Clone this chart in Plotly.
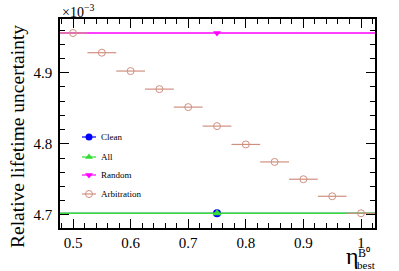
import plotly.graph_objects as go

# ---- data (values in units of 1e-3) ----
arb_eta = [0.50, 0.55, 0.60, 0.65, 0.70, 0.75, 0.80, 0.85, 0.90, 0.95, 1.00]
arb_unc = [4.9559, 4.9282, 4.9024, 4.8770, 4.8517, 4.8250, 4.7992, 4.7746, 4.7503, 4.7263, 4.7024]
arb_half = [0.025] * len(arb_eta)

clean_eta = [0.75]
clean_unc = [4.7024]
all_eta = [0.75]
all_unc = [4.7024]
rand_eta = [0.75]
rand_unc = [4.9559]
full_half = [0.30]

x_ticks = [0.5, 0.6, 0.7, 0.8, 0.9, 1.0]
x_ticklabels = ["0.5", "0.6", "0.7", "0.8", "0.9", "1"]
y_ticks = [4.7, 4.8, 4.9]
y_ticklabels = ["4.7", "4.8", "4.9"]

legend_names = ["Clean", "All", "Random", "Arbitration"]

C_CLEAN = "#0000ff"
C_ALL = "#33dd33"
C_RAND = "#ff00ff"
C_ARB = "#d09080"
SERIF = "Liberation Serif, Times New Roman, serif"

fig = go.Figure()

fig.add_trace(go.Scatter(
    x=clean_eta, y=clean_unc, mode="markers",
    marker=dict(symbol="circle", size=8, color=C_CLEAN),
    error_x=dict(type="data", array=full_half, color=C_CLEAN, thickness=1, width=0),
    showlegend=False))
fig.add_trace(go.Scatter(
    x=all_eta, y=all_unc, mode="markers",
    marker=dict(symbol="triangle-up", size=8, color=C_ALL),
    error_x=dict(type="data", array=full_half, color=C_ALL, thickness=1.6, width=0),
    showlegend=False))
fig.add_trace(go.Scatter(
    x=rand_eta, y=rand_unc, mode="markers",
    marker=dict(symbol="triangle-down", size=7, color=C_RAND),
    error_x=dict(type="data", array=full_half, color=C_RAND, thickness=1.6, width=0),
    showlegend=False))
fig.add_trace(go.Scatter(
    x=arb_eta, y=arb_unc, mode="markers",
    marker=dict(symbol="circle-open", size=7, color=C_ARB, line=dict(width=1)),
    error_x=dict(type="data", array=arb_half, color=C_ARB, thickness=1.2, width=0),
    showlegend=False))

# ---- manual legend on an overlay axis in pixel-like coordinates ----
leg_rows = [137, 157, 175, 194]
leg_styles = [
    dict(symbol="circle", size=7, color=C_CLEAN),
    dict(symbol="triangle-up", size=7, color=C_ALL),
    dict(symbol="triangle-down", size=7, color=C_RAND),
    dict(symbol="circle-open", size=7, color=C_ARB, line=dict(width=1)),
]
leg_colors = [C_CLEAN, C_ALL, C_RAND, C_ARB]
for name, yy, st, col in zip(legend_names, leg_rows, leg_styles, leg_colors):
    fig.add_trace(go.Scatter(
        x=[82, 96], y=[yy, yy], mode="lines", line=dict(color=col, width=1.2),
        xaxis="x2", yaxis="y2", showlegend=False, hoverinfo="skip"))
    fig.add_trace(go.Scatter(
        x=[89], y=[yy], mode="markers", marker=st,
        xaxis="x2", yaxis="y2", showlegend=False, hoverinfo="skip"))
    fig.add_annotation(x=99, y=yy, xref="x2", yref="y2", text=name,
                       showarrow=False, xanchor="left", yanchor="middle",
                       font=dict(family=SERIF, size=9, color="black"))

axis_common = dict(
    showline=True, linecolor="black", linewidth=1.5, mirror="ticks",
    ticks="inside", ticklen=9, tickwidth=1.2, tickcolor="black",
    showgrid=False, zeroline=False,
    tickfont=dict(family=SERIF, size=15, color="black"),
)

fig.update_layout(
    width=399, height=271,
    margin=dict(l=60, r=24, t=19, b=43),
    paper_bgcolor="white", plot_bgcolor="white",
    font=dict(family=SERIF, color="black"),
    xaxis=dict(range=[0.4774, 1.0243], tickvals=x_ticks, ticktext=x_ticklabels,
               minor=dict(dtick=0.02, tick0=0.5, ticks="inside", ticklen=5,
                          tickcolor="black", tickwidth=1), **axis_common),
    yaxis=dict(range=[4.6817, 4.9756], tickvals=y_ticks, ticktext=y_ticklabels,
               ticklabelstandoff=3,
               minor=dict(dtick=0.02, tick0=4.7, ticks="inside", ticklen=5,
                          tickcolor="black", tickwidth=1),
               **axis_common),
    xaxis2=dict(range=[60, 375], overlaying="x", visible=False, fixedrange=True),
    yaxis2=dict(range=[228, 19], overlaying="y", visible=False, fixedrange=True),
)

def px_x(p):
    return (p - 60) / 315

def px_y(p):
    return (228 - p) / 209

# y-axis title
fig.add_annotation(x=px_x(17), y=px_y(137), xref="paper", yref="paper",
                   text="Relative lifetime uncertainty", textangle=-90, showarrow=False,
                   xanchor="center", yanchor="middle",
                   font=dict(family=SERIF, size=19.5, color="black"))
# exponent label
fig.add_annotation(x=0, y=1.0, xref="paper", yref="paper", text="×10<sup>−3</sup>",
                   showarrow=False, xanchor="left", yanchor="bottom", yshift=-3,
                   font=dict(family=SERIF, size=14, color="black"))
# x-axis title
fig.add_annotation(x=px_x(344), y=px_y(256), xref="paper", yref="paper",
                   text="η", showarrow=False, xanchor="left", yanchor="middle",
                   font=dict(family=SERIF, size=24, color="black"))
fig.add_annotation(x=px_x(356), y=px_y(253), xref="paper", yref="paper",
                   text="B⁰", showarrow=False, xanchor="left", yanchor="middle",
                   font=dict(family=SERIF, size=12, color="black"))
fig.add_annotation(x=px_x(355), y=px_y(265), xref="paper", yref="paper",
                   text="best", showarrow=False, xanchor="left", yanchor="middle",
                   font=dict(family=SERIF, size=11, color="black"))

fig.write_html("out.html", post_script="document.body.style.margin='0';",
               config={"displayModeBar": False})
